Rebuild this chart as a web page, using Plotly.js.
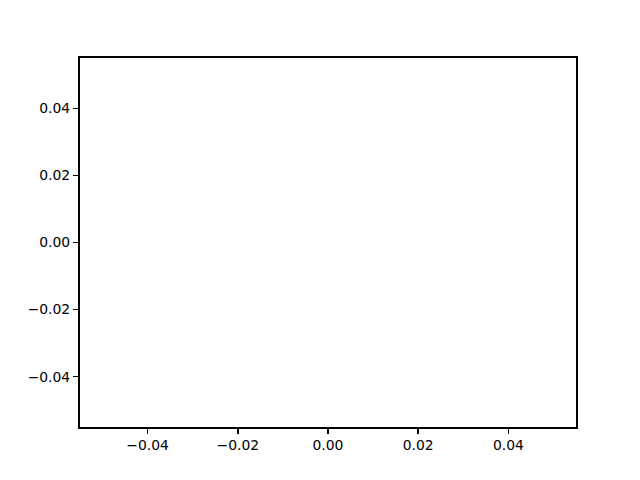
<!DOCTYPE html>
<html>
<head>
<meta charset="utf-8">
<script src="https://cdn.plot.ly/plotly-3.0.1.min.js"></script>
<style>html,body{margin:0;padding:0;background:#fff;}#chart{width:640px;height:480px;}</style>
</head>
<body>
<div id="chart"></div>
<script>
// The reference shows an empty axes: no data marks.
const xValues = [];
const yValues = [];
const xTickVals = [-0.04, -0.02, 0.00, 0.02, 0.04];
const xTickText = ["\u22120.04", "\u22120.02", "0.00", "0.02", "0.04"];
const yTickVals = [-0.04, -0.02, 0.00, 0.02, 0.04];
const yTickText = ["\u22120.04", "\u22120.02", "0.00", "0.02", "0.04"];
const xRange = [-0.055, 0.055];
const yRange = [-0.055, 0.055];

const axisCommon = {
  showgrid: false,
  zeroline: false,
  showline: true,
  linecolor: '#000',
  linewidth: 2,
  mirror: true,
  ticks: 'outside',
  ticklen: 5,
  tickwidth: 1.6,
  tickcolor: '#000',
  tickfont: {family: 'DejaVu Sans', size: 13.9, color: '#000'},
  fixedrange: true
};

Plotly.newPlot('chart', [{
  type: 'scatter', mode: 'lines', x: xValues, y: yValues, showlegend: false
}], {
  width: 640, height: 480,
  paper_bgcolor: '#fff', plot_bgcolor: '#fff',
  margin: {l: 80, r: 64, t: 58, b: 53, pad: 0},
  showlegend: false,
  hovermode: false,
  xaxis: Object.assign({}, axisCommon, {range: xRange, tickmode: 'array', tickvals: xTickVals, ticktext: xTickText, ticklabelstandoff: -1}),
  yaxis: Object.assign({}, axisCommon, {range: yRange, tickmode: 'array', tickvals: yTickVals, ticktext: yTickText, ticklabelstandoff: 0})
}, {displayModeBar: false, staticPlot: true});
</script>
</body>
</html>
